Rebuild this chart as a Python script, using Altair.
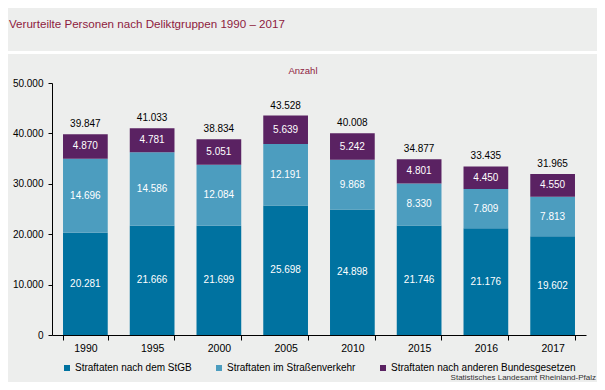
import altair as alt
import pandas as pd

years = ["1990", "1995", "2000", "2005", "2010", "2015", "2016", "2017"]
stgb = [20281, 21666, 21699, 25698, 24898, 21746, 21176, 19602]
verkehr = [14696, 14586, 12084, 12191, 9868, 8330, 7809, 7813]
andere = [4870, 4781, 5051, 5639, 5242, 4801, 4450, 4550]
totals = [39847, 41033, 38834, 43528, 40008, 34877, 33435, 31965]
groups = ["Straftaten nach dem StGB", "Straftaten im Straßenverkehr",
          "Straftaten nach anderen Bundesgesetzen"]
colors = ["#0072A0", "#4C9DBF", "#5A2262"]
y_ticks = [0, 10000, 20000, 30000, 40000, 50000]

rows = []
for i, yr in enumerate(years):
    for k, (g, vals) in enumerate(zip(groups, [stgb, verkehr, andere])):
        rows.append({"Jahr": yr, "Gruppe": g, "Wert": vals[i], "ord": k})
df = pd.DataFrame(rows)
tot = pd.DataFrame({"Jahr": years, "Summe": totals})

FONT = "Liberation Sans"
MAROON = "#8E1B3E"

xenc = alt.X("Jahr:N", sort=years,
             scale=alt.Scale(paddingInner=0.33, paddingOuter=0.165),
             axis=alt.Axis(title=None, labelAngle=0, tickBand="extent", tickSize=5,
                           labelPadding=3, labelFontSize=10.5, labelFontWeight="normal",
                           labelColor="black", domainColor="black", tickColor="black"))

bars = alt.Chart(df).mark_bar().encode(
    x=xenc,
    y=alt.Y("Wert:Q", stack="zero",
            scale=alt.Scale(domain=[0, 50000], nice=False),
            axis=alt.Axis(title=None, values=y_ticks, format=",d", grid=False,
                          tickSize=4, labelPadding=5, labelFontSize=10,
                          labelColor="black", domainColor="black", tickColor="black")),
    color=alt.Color("Gruppe:N", scale=alt.Scale(domain=groups, range=colors),
                    legend=alt.Legend(orient="none", legendX=10, legendY=280,
                                      direction="horizontal", columns=3, title=None,
                                      symbolType="square", symbolSize=36,
                                      symbolStrokeWidth=0, labelFontSize=10,
                                      labelFont=FONT, labelColor="black",
                                      columnPadding=22, labelOffset=3,
                                      labelLimit=400, padding=0)),
    order=alt.Order("ord:Q", sort="ascending"),
)

seg_labels = alt.Chart(df).transform_stack(
    stack="Wert", groupby=["Jahr"], as_=["y0", "y1"],
    sort=[alt.SortField("ord", order="ascending")]
).transform_calculate(
    mid="(datum.y0 + datum.y1) / 2"
).mark_text(color="white", fontSize=10, font=FONT, baseline="middle").encode(
    x=alt.X("Jahr:N", sort=years),
    y=alt.Y("mid:Q"),
    text=alt.Text("Wert:Q", format=",d"),
)

tot_labels = alt.Chart(tot).mark_text(color="black", fontSize=10, font=FONT,
                                      baseline="middle", dy=-10).encode(
    x=alt.X("Jahr:N", sort=years),
    y=alt.Y("Summe:Q"),
    text=alt.Text("Summe:Q", format=",d"),
)

title = alt.Chart(pd.DataFrame({"t": ["Verurteilte Personen nach Deliktgruppen 1990 – 2017"]})).mark_text(
    align="left", baseline="middle", fontSize=11.6, font=FONT, color=MAROON
).encode(x=alt.value(-43), y=alt.value(-58), text="t:N")

sep = alt.Chart(pd.DataFrame({"a": [0]})).mark_rule(color="white", strokeWidth=3).encode(
    x=alt.value(-44), x2=alt.value(545), y=alt.value(-30.5))

unit = alt.Chart(pd.DataFrame({"t": ["Anzahl"]})).mark_text(
    align="center", baseline="middle", fontSize=9.5, font=FONT, color=MAROON
).encode(x=alt.value(251), y=alt.value(-12), text="t:N")

source = alt.Chart(pd.DataFrame({"t": ["Statistisches Landesamt Rheinland-Pfalz"]})).mark_text(
    align="right", baseline="middle", fontSize=8, font=FONT, color="#333333"
).encode(x=alt.value(544), y=alt.value(295), text="t:N")

chart = alt.layer(sep, title, unit, bars, seg_labels, tot_labels, source).properties(
    width=534, height=252,
    autosize=alt.AutoSizeParams(type="none"),
    padding={"left": 44, "top": 75, "right": 11, "bottom": 47},
    background="#EDEEED",
).configure(
    font=FONT,
    locale={"number": {"decimal": ",", "thousands": ".", "grouping": [3],
                       "currency": ["", " €"]}},
).configure_view(stroke=None).configure_axis(labelFont=FONT)

chart.save("out.html", embed_options={"renderer": "svg", "actions": False})
